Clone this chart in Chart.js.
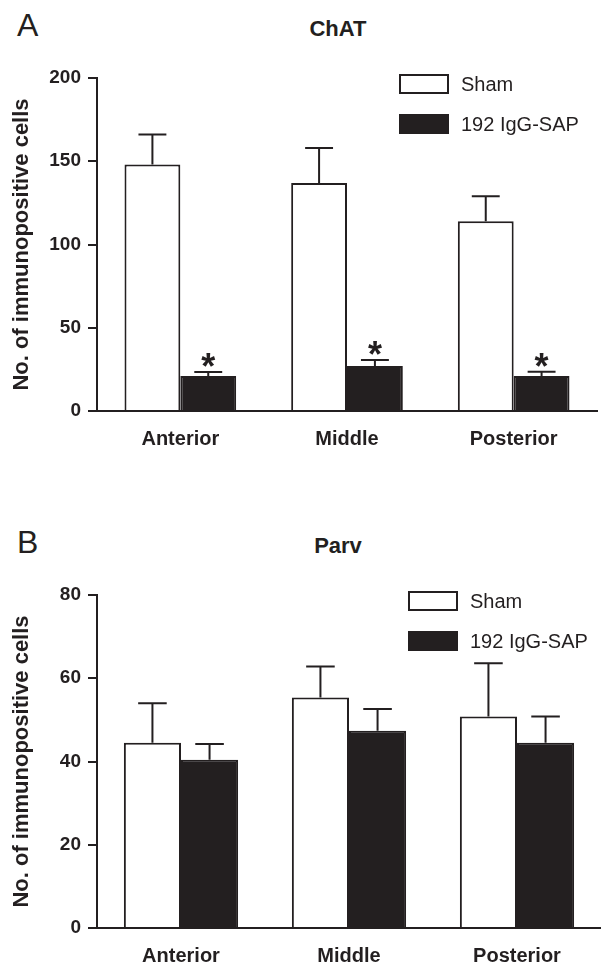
<!DOCTYPE html>
<html>
<head>
<meta charset="utf-8">
<script src="https://cdn.jsdelivr.net/npm/chart.js@4.4.0/dist/chart.umd.min.js"></script>
<style>
  body { margin: 0; background: #fff; }
  #page { position: relative; width: 601px; height: 965px; font-family: "Liberation Sans", Arial, sans-serif; color: #231f20; }
  .panel { position: absolute; left: 0; width: 601px; }
  .letter { position: absolute; left: 17px; font-size: 32px; line-height: 32px; }
  .title { position: absolute; left: 238px; width: 200px; text-align: center; font-size: 22px; line-height: 22px; font-weight: bold; }
</style>
</head>
<body>
<div id="page">
  <div class="letter" style="top: 9px;">A</div>
  <div class="title" style="top: 18px;">ChAT</div>
  <div class="panel" style="top: 0px; height: 470px;"><canvas id="chartA" width="601" height="470"></canvas></div>

  <div class="letter" style="top: 526px;">B</div>
  <div class="title" style="top: 535px;">Parv</div>
  <div class="panel" style="top: 480px; height: 485px;"><canvas id="chartB" width="601" height="485"></canvas></div>
</div>
<script>
const regions = ['Anterior', 'Middle', 'Posterior'];
const groupNames = ['Sham', '192 IgG-SAP'];

// panel A - ChAT
const chatSham = [148, 137, 114];
const chatShamErr = [18, 21, 15];
const chatSap = [21, 27, 21];
const chatSapErr = [2.4, 3.6, 2.6];
const chatSapStars = [true, true, true];
const chatTicks = [0, 50, 100, 150, 200];

// panel B - Parv
const parvSham = [44.5, 55.4, 50.8];
const parvShamErr = [9.5, 7.4, 12.8];
const parvSap = [40.4, 47.4, 44.5];
const parvSapErr = [3.8, 5.2, 6.3];
const parvSapStars = [false, false, false];
const parvTicks = [0, 20, 40, 60, 80];

const ink = '#231f20';
const font = '"Liberation Sans", Arial, sans-serif';

// error bars + significance stars
const errorBars = {
  id: 'errorBars',
  afterDatasetsDraw(chart) {
    const ctx = chart.ctx;
    const yScale = chart.scales.y;
    chart.data.datasets.forEach((ds, i) => {
      const meta = chart.getDatasetMeta(i);
      meta.data.forEach((bar, j) => {
        const top = yScale.getPixelForValue(ds.data[j] + ds.errors[j]);
        const half = bar.width / 4;
        ctx.save();
        ctx.strokeStyle = ink;
        ctx.lineWidth = 2;
        ctx.beginPath();
        ctx.moveTo(bar.x, bar.y);
        ctx.lineTo(bar.x, top);
        ctx.moveTo(bar.x - half, top);
        ctx.lineTo(bar.x + half, top);
        ctx.stroke();
        if (ds.stars && ds.stars[j]) {
          ctx.fillStyle = ink;
          ctx.font = 'bold 36px ' + font;
          ctx.textAlign = 'center';
          ctx.textBaseline = 'alphabetic';
          ctx.fillText('*', bar.x, top + 7);
        }
        ctx.restore();
      });
    });
  }
};

// legend boxes in the top right of the plot
const boxLegend = {
  id: 'boxLegend',
  afterDraw(chart, args, opts) {
    const ctx = chart.ctx;
    const area = chart.chartArea;
    const x = area.right - opts.inset;
    chart.data.datasets.forEach((ds, i) => {
      const y = area.top - 4 + i * 40;
      ctx.save();
      ctx.fillStyle = ds.backgroundColor;
      ctx.fillRect(x, y, 50, 20);
      ctx.strokeStyle = ink;
      ctx.lineWidth = 2;
      ctx.strokeRect(x + 1, y + 1, 48, 18);
      ctx.fillStyle = ink;
      ctx.font = '20px ' + font;
      ctx.textBaseline = 'middle';
      ctx.textAlign = 'left';
      ctx.fillText(ds.label, x + 62, y + 11);
      ctx.restore();
    });
  }
};

function makeChart(id, sham, shamErr, sap, sapErr, stars, ticks, opts) {
  return new Chart(document.getElementById(id), {
    type: 'bar',
    data: {
      labels: regions,
      datasets: [
        { label: groupNames[0], data: sham, errors: shamErr, backgroundColor: '#ffffff', borderColor: ink, borderWidth: 2 },
        { label: groupNames[1], data: sap, errors: sapErr, stars: stars, backgroundColor: ink, borderColor: ink, borderWidth: 2 }
      ]
    },
    options: {
      responsive: false,
      animation: false,
      events: [],
      categoryPercentage: opts.catPct,
      barPercentage: 1.0,
      layout: { padding: { top: opts.top, right: opts.right, left: 0, bottom: 0 } },
      plugins: {
        legend: { display: false },
        tooltip: { enabled: false },
        boxLegend: { inset: opts.inset }
      },
      scales: {
        x: {
          grid: { display: false },
          border: { display: true, color: ink, width: 2 },
          ticks: { color: ink, padding: 8, font: { family: font, size: 20, weight: 'bold' } },
          afterFit(scale) { scale.height = opts.xHeight; }
        },
        y: {
          min: ticks[0],
          max: ticks[ticks.length - 1],
          afterBuildTicks(scale) { scale.ticks = ticks.map(v => ({ value: v })); },
          grid: { drawOnChartArea: false, drawTicks: true, tickLength: 9, color: ink, lineWidth: 2 },
          border: { display: true, color: ink, width: 2 },
          ticks: { color: ink, padding: 7, font: { family: font, size: 19, weight: 'bold' } },
          title: {
            display: true,
            text: 'No. of immunopositive cells',
            color: ink,
            padding: { top: 9, bottom: 0 },
            font: { family: font, size: 22, weight: 'bold' }
          },
          afterFit(scale) { scale.width = 97; }
        }
      }
    },
    plugins: [errorBars, boxLegend]
  });
}

makeChart('chartA', chatSham, chatShamErr, chatSap, chatSapErr, chatSapStars, chatTicks,
  { top: 78, right: 4, xHeight: 59, catPct: 0.67, inset: 198 });
makeChart('chartB', parvSham, parvShamErr, parvSap, parvSapErr, parvSapStars, parvTicks,
  { top: 115, right: 0, xHeight: 37, catPct: 0.68, inset: 193 });
</script>
</body>
</html>
